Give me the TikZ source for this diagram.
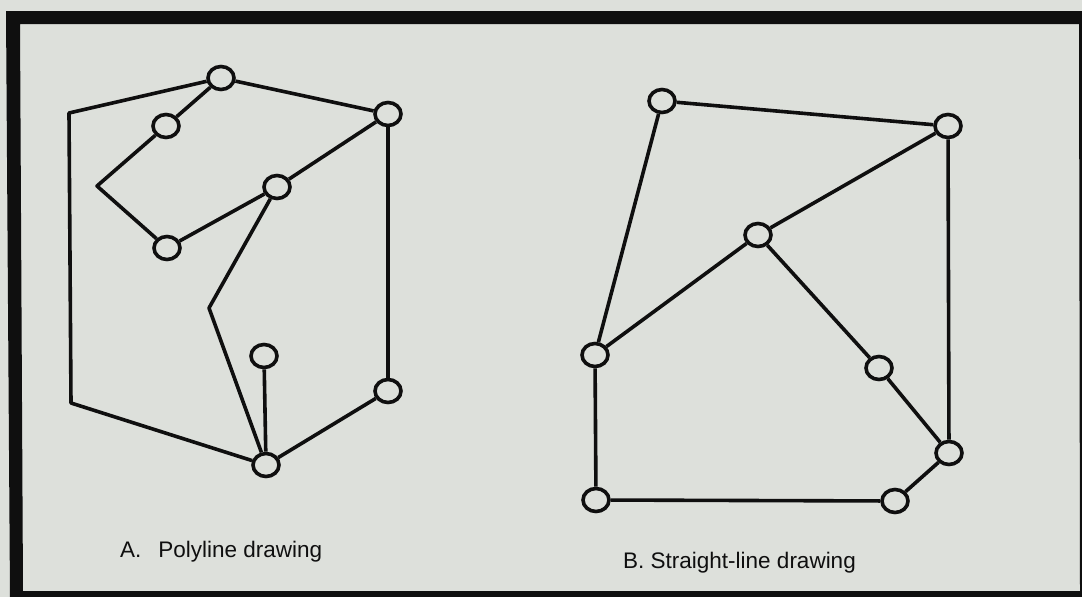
\documentclass[tikz,border=0pt]{standalone}
\usepackage{fontspec}
\setmainfont{Liberation Sans}
\usepackage{tikz}
\usetikzlibrary{shapes.geometric}
\definecolor{paper}{RGB}{221,224,219}
\definecolor{ink}{RGB}{15,15,15}

\begin{document}
\begin{tikzpicture}[x=1pt,y=-1pt,
  vertex/.style={ellipse,draw=ink,line width=3.6pt,minimum width=26pt,minimum height=23pt,inner sep=0pt},
  edge/.style={draw=ink,line width=3.6pt,line join=round},
  caption/.style={anchor=base west,inner sep=0pt,text=ink,font=\fontsize{22.5}{27}\selectfont}]
  \fill[paper] (0,0) rectangle (1082,597);
  \useasboundingbox (0,0) rectangle (1082,597);
  \fill[ink,even odd rule] (6,11) -- (1082,11) -- (1082,597) -- (10,597) -- cycle
    (20,24) -- (1079,24) -- (1080,591) -- (23,591) -- cycle;

  % A. polyline drawing
  \node[vertex] (a1) at (221,78) {};
  \node[vertex] (a2) at (166,126) {};
  \node[vertex] (a3) at (388,114) {};
  \node[vertex] (a4) at (277,187) {};
  \node[vertex] (a5) at (167,248) {};
  \node[vertex] (a6) at (264,356) {};
  \node[vertex] (a7) at (388,391) {};
  \node[vertex] (a8) at (266,465) {};
  \coordinate (b1) at (69,113);
  \coordinate (b2) at (71,403);
  \coordinate (b3) at (97,186);
  \coordinate (b4) at (209,308);
  \draw[edge] (a1) -- (b1) -- (b2) -- (a8);
  \draw[edge] (a2) -- (b3) -- (a5);
  \draw[edge] (a4) -- (b4) -- (a8);
  \foreach \u/\v in {a1/a3,a1/a2,a5/a4,a4/a3,a3/a7,a7/a8,a6/a8}
    \draw[edge] (\u) -- (\v);
  \node[caption] (capA) at (120,557) {A.\hspace{0.75em}Polyline drawing};

  % B. straight-line drawing
  \node[vertex] (s1) at (662,101) {};
  \node[vertex] (s2) at (948,126) {};
  \node[vertex] (s3) at (758,235) {};
  \node[vertex] (s4) at (595,355) {};
  \node[vertex] (s5) at (879,368) {};
  \node[vertex] (s6) at (949,453) {};
  \node[vertex] (s7) at (596,500) {};
  \node[vertex] (s8) at (895,501) {};
  \foreach \u/\v in {s1/s2,s1/s4,s2/s3,s2/s6,s3/s4,s3/s5,s5/s6,s6/s8,s8/s7,s7/s4}
    \draw[edge] (\u) -- (\v);
  \node[caption] (capB) at (623,568) {B. Straight-line drawing};
\end{tikzpicture}
\end{document}
